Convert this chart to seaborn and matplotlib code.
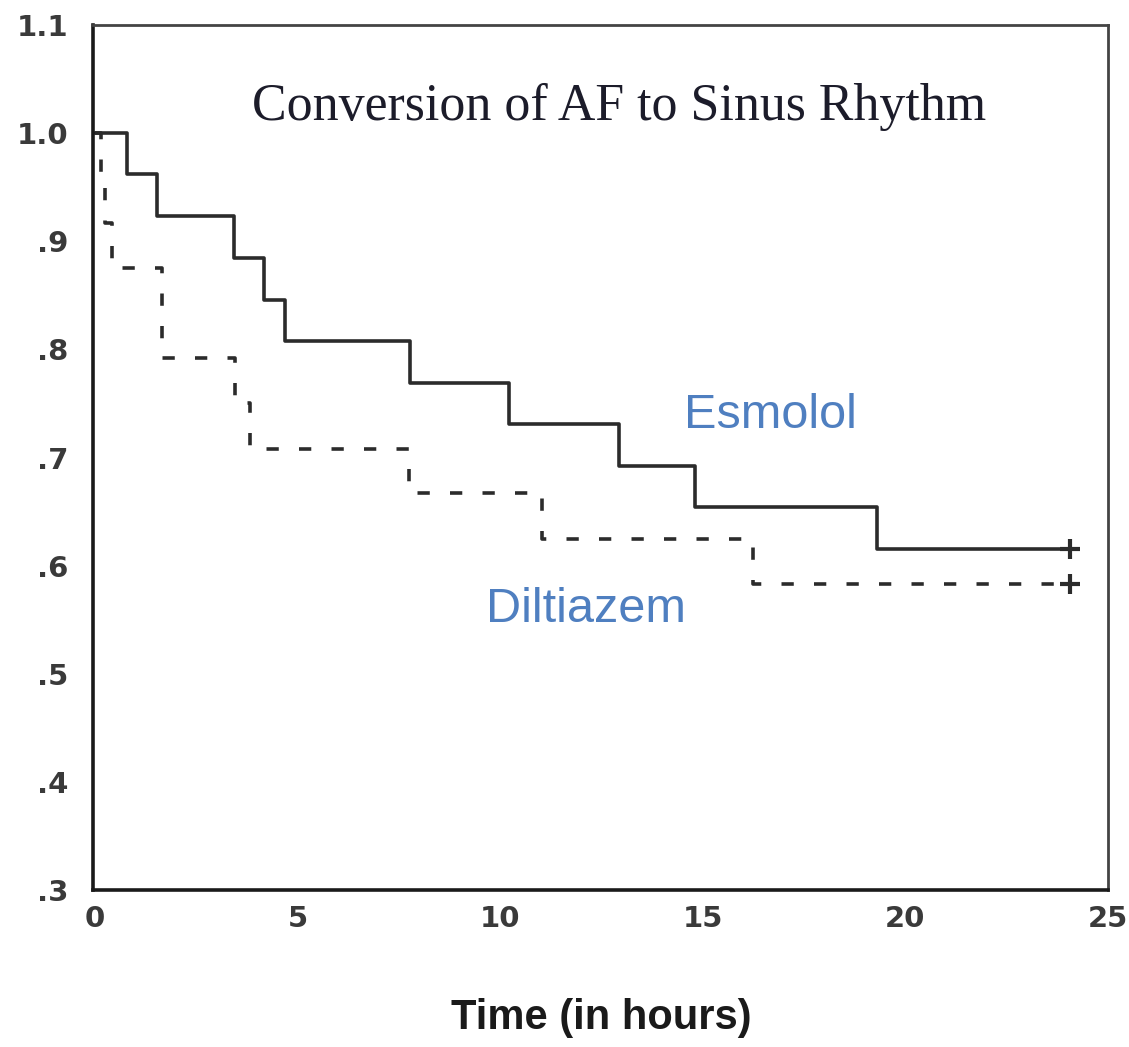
import numpy as np, pandas as pd
import matplotlib; matplotlib.use("Agg")
import matplotlib.pyplot as plt
import seaborn as sns

sns.set_style("white")
plt.rcParams["font.family"] = ["Liberation Sans", "DejaVu Sans"]

# ---------- Kaplan-Meier step data ----------
esm_time = [0, 0.78, 1.53, 3.42, 4.16, 4.68, 7.78, 10.22, 12.93, 14.8, 19.29, 24.06]
esm_surv = [1.0, .962, .923, .885, .846, .808, .769, .731, .692, .654, .615, .615]
dil_time = [0, 0.15, 0.25, 0.42, 1.65, 3.45, 3.82, 7.76, 11.03, 16.23, 24.06]
dil_surv = [1.0, .958, .917, .875, .792, .750, .708, .667, .625, .583, .583]
yticks = [.3, .4, .5, .6, .7, .8, .9, 1.0, 1.1]
ylabels = [".3", ".4", ".5", ".6", ".7", ".8", ".9", "1.0", "1.1"]
xticks = [0, 5, 10, 15, 20, 25]

esm = pd.DataFrame({"time": esm_time, "surv": esm_surv})
dil = pd.DataFrame({"time": dil_time, "surv": dil_surv})

fig = plt.figure(figsize=(11.29, 10.47), dpi=100)
ax = fig.add_axes([0.0824, 0.150, 0.899, 0.826])

sns.lineplot(data=esm, x="time", y="surv", drawstyle="steps-post", color="#2b2b2b",
             linewidth=2.6, ax=ax)
sns.lineplot(data=dil, x="time", y="surv", drawstyle="steps-post", color="#2b2b2b",
             linewidth=2.6, dashes=False, ax=ax).lines[-1].set_dashes([3.4, 5.6])
# censoring marks at the last follow-up
sns.scatterplot(x=[esm_time[-1], dil_time[-1]], y=[esm_surv[-1], dil_surv[-1]], marker="+",
                s=220, color="#2b2b2b", linewidth=3, ax=ax, zorder=4)

ax.set_xlim(-0.05, 25); ax.set_ylim(0.3, 1.1)
ax.set_xticks(xticks); ax.set_xticklabels([str(t) for t in xticks])
ax.set_yticks(yticks); ax.set_yticklabels(ylabels)
ax.tick_params(axis="both", direction="out", length=6, width=3, color="#111",
               labelsize=21, labelcolor="#3a3a3a")
ax.tick_params(axis="y", pad=12)
ax.tick_params(axis="x", pad=5)
for t in ax.get_xticklabels() + ax.get_yticklabels():
    t.set_fontweight("bold"); t.set_family("DejaVu Sans")
for s in ["left", "bottom"]:
    ax.spines[s].set_linewidth(2.6); ax.spines[s].set_color("#1a1a1a")
for s in ["top", "right"]:
    ax.spines[s].set_linewidth(2.0); ax.spines[s].set_color("#444")

ax.set_xlabel("Time (in hours)", fontsize=30, fontweight="bold", color="#1a1a1a")
ax.xaxis.set_label_coords(0.501, -0.148)
ax.xaxis.label.set_va("center")
ax.set_ylabel("")

ax.text(0.518, 0.905, "Conversion of AF to Sinus Rhythm", transform=ax.transAxes,
        ha="center", va="center", fontsize=37.4, family="Liberation Serif", color="#1c1c2a")
ax.text(0.667, 0.549, "Esmolol", transform=ax.transAxes, ha="center", va="center",
        fontsize=35, color="#4f7fc0")
ax.text(0.486, 0.324, "Diltiazem", transform=ax.transAxes, ha="center", va="center",
        fontsize=35, color="#4f7fc0")

fig.savefig("out.png", dpi=100, facecolor="white")
plt.close(fig)
